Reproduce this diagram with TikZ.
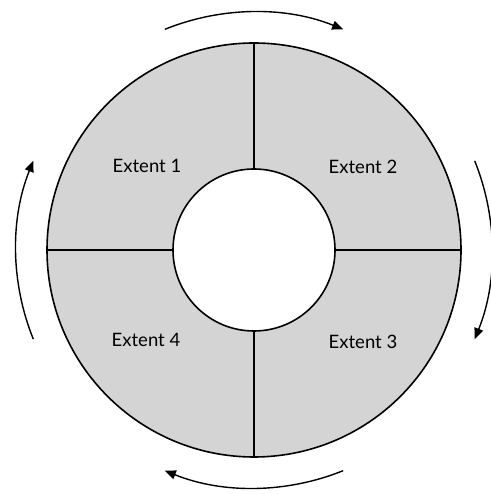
\documentclass[tikz,border=0pt]{standalone}
\usepackage{fontspec}
\setmainfont{Lato}
\usetikzlibrary{arrows.meta, positioning}
\tikzset{
  ring/.style={circle, draw=black, line width=1.6pt, fill=black!17, minimum size=414pt, inner sep=0pt},
  hole/.style={circle, draw=black, line width=1.6pt, fill=white, minimum size=162pt, inner sep=0pt},
  extent/.style={font=\fontsize{18.5}{20}\selectfont, text=black},
  divider/.style={line width=1.5pt},
  turn/.style={line width=1.4pt, -{Triangle[length=11pt, width=9pt]}}
}
\begin{document}
\begin{tikzpicture}[x=1pt, y=1pt]
                \useasboundingbox (0,0) rectangle (490,494);
                \coordinate (c) at (254,244);
                \node (outer) [ring] at (c) {};
                \node (inner) [hole] at (c) {};

                % the four dividers between the rings
                \draw [divider] (inner.north) -- (outer.north);
                \draw [divider] (inner.south) -- (outer.south);
                \draw [divider] (inner.west) -- (outer.west);
                \draw [divider] (inner.east) -- (outer.east);

                \node (ext1) [extent] at (147,328) {Extent 1};
                \node (ext2) [extent] at (363,327) {Extent 2};
                \node (ext3) [extent] at (363,152) {Extent 3};
                \node (ext4) [extent] at (146,154) {Extent 4};

                % clockwise arrows round the outside
                \foreach \a in {90,0,-90,180}
                  \draw [turn] ([shift={({\a+22}:238pt)}]c) arc[start angle={\a+22}, end angle={\a-22}, radius=238pt];
            \end{tikzpicture}
\end{document}
